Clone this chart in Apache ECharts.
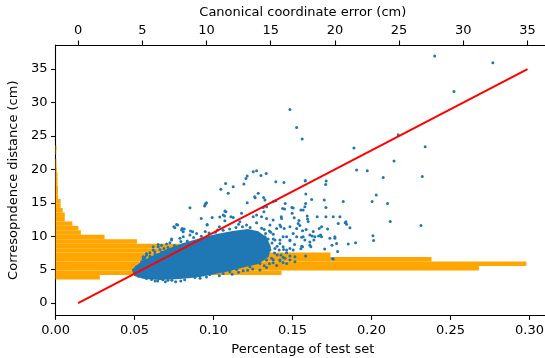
<!DOCTYPE html>
<html>
<head>
<meta charset="utf-8">
<script src="https://cdn.jsdelivr.net/npm/echarts@6/dist/echarts.min.js"></script>
<style>
  html, body { margin: 0; padding: 0; background: #fff; overflow: hidden; }
  #chart { width: 556px; height: 358px; }
</style>
</head>
<body>
<div id="chart"></div>
<script>
// tick labels
var pctTicks = [0, 0.05, 0.1, 0.15, 0.2, 0.25, 0.3];
var errTicks = [0, 5, 10, 15, 20, 25, 30, 35];
var distTicks = [0, 5, 10, 15, 20, 25, 30, 35];

// histogram of correspondence distance (bin lower edges, share of test set)
var histEdges = [3.54, 4.21, 4.88, 5.54, 6.21, 6.88, 7.55, 8.22, 8.88, 9.55, 10.22, 10.89, 11.56, 12.22, 12.89,
  13.56, 14.23, 14.9, 15.56, 16.23, 16.9, 17.57, 18.24, 18.9, 19.57, 20.24, 20.9, 21.57, 22.24, 22.9, 23.58];
var histPct = [0.028, 0.143, 0.268, 0.298, 0.238, 0.174, 0.125, 0.085, 0.0515, 0.031, 0.016, 0.0144, 0.0106,
  0.0058, 0.0058, 0.0045, 0.0032, 0.0032, 0.0015, 0.0015, 0.0015, 0.0012, 0.0012, 0.0012, 0.0008, 0.0006,
  0.0005, 0, 0.0004, 0.0006];

// y = x reference line
var refLine = [[0, 0], [35, 35]];

// outline of the dense core of the point cloud (error, distance)
var densePolyErr = [4.27, 4.81, 5.59, 6.92, 8.16, 9.49, 10.81, 12.06, 13.23, 14.0, 14.63, 14.94, 14.78, 14.0,
  12.99, 11.82, 10.65, 9.49, 7.93, 6.37, 5.2, 4.42];
var densePolyDist = [4.94, 5.83, 6.73, 7.93, 8.82, 9.57, 10.17, 10.62, 10.92, 10.62, 9.72, 8.38, 7.03, 5.98,
  5.53, 4.94, 4.49, 4.04, 3.74, 3.59, 3.74, 4.19];

// individual points around the core
var scatterPoints = [
  [27.77,36.94],[32.3,35.94],[29.27,31.66],[24.93,25.17],[27.03,23.38],[24.6,21.24],[23.76,18.8],[26.8,18.95],
  [24.1,14.91],[24.31,12.22],[26.7,11.62],[16.5,28.97],[17.02,26.28],[17.45,24.53],[21.48,23.18],[21.69,19.89],
  [22.52,19.79],[23.22,16.15],[22.9,15.21],[20.65,15.21],[22.96,10.07],[23.01,9.38],[21.61,9.02],[21.04,8.82],
  [19.82,6.63],[20.21,7.73],[19.77,8.67],[20.0,9.68],[20.39,12.91],[20.86,12.16],[21.17,11.26],[20.8,12.01],
  [20.26,11.92],[18.62,12.91],[19.3,12.91],[19.87,12.91],[18.96,11.41],[19.43,11.07],[18.96,9.92],[19.2,8.08],
  [18.36,9.42],[18.73,10.02],[18.23,10.02],[17.76,11.02],[17.92,12.22],[18.31,10.72],[19.17,15.41],[19.32,18.25],
  [19.28,17.75],[17.69,18.25],[17.74,16.3],[18.19,15.51],[17.72,14.91],[17.66,14.4],[17.35,13.91],[17.53,13.91],
  [16.75,14.21],[16.67,13.42],[16.83,12.76],[17.2,12.37],[17.27,11.62],[17.02,11.17],[17.48,10.81],[16.75,10.42],
  [17.02,9.92],[17.41,9.83],[17.66,9.42],[18.05,9.12],[16.86,8.78],[17.48,8.42],[18.13,8.42],[17.72,7.03],
  [17.35,8.12],[16.75,7.93],[16.13,14.91],[16.08,14.06],[15.82,12.91],[15.79,11.41],[16.05,11.17],[16.24,9.92],
  [16.5,9.32],[15.72,9.42],[15.97,8.42],[15.66,7.93],[16.24,7.93],[16.5,7.03],[16.11,6.69],[15.72,6.43],
  [15.97,6.09],[15.4,18.14],[16.03,18.05],[13.64,19.64],[13.9,19.79],[14.65,19.4],[14.24,19.1],[13.17,18.99],
  [13.07,18.65],[12.91,17.8],[13.75,15.9],[14.03,16.41],[14.55,15.41],[13.17,15.0],[14.47,13.66],[15.4,15.3],
  [15.19,15.15],[12.73,13.42],[13.64,12.91],[13.9,13.16],[14.29,12.91],[14.68,12.67],[15.19,12.41],[14.94,11.67],
  [15.72,11.67],[15.46,11.17],[11.49,17.9],[12.08,17.39],[11.12,17.01],[11.69,16.41],[13.79,15.75],[14.45,15.81],
  [17.69,18.35],[19.3,14.31],[9.95,14.91],[9.85,14.51],[16.65,14.31],[15.93,14.16],[15.85,12.67],[14.68,14.4],
  [14.42,14.31],[11.43,13.76],[11.3,13.16],[12.08,12.82],[17.84,13.01],[17.87,12.56],[18.78,11.17],[20.0,9.92],
  [18.89,10.17],[18.05,10.17],[9.59,12.67],[10.44,12.82],[8.71,14.26],[9.9,14.76],[10.0,15.0],[7.67,11.77],
  [7.46,11.41],[8.11,11.17],[8.06,10.92],[8.76,10.77],[8.92,10.66],[10.05,11.77],[11.04,12.86],[11.51,13.66],
  [11.41,13.01],[11.43,12.31],[11.9,12.91],[10.86,10.92],[5.33,7.18],[5.85,7.93],[5.98,7.67],[6.37,8.03],
  [6.68,8.18],[6.24,8.42],[6.89,8.82],[7.15,9.02],[7.28,9.57],[6.5,8.67],[5.07,6.54],[4.95,6.18],[5.2,6.84],
  [5.59,7.52],[4.81,5.68],[4.6,5.34],[8.19,9.92],[7.93,9.68],[8.71,10.17],[9.23,10.42],[7.54,11.26],[7.75,11.67],
  [8.26,11.07],[7.28,9.42],[6.24,8.78],[5.85,8.42],[5.33,7.43],[5.07,6.93],[4.55,5.43],[4.45,4.94],[5.33,3.69],
  [5.72,3.54],[8.71,3.93],[9.1,3.84],[10.26,4.29],[10.65,4.53],[11.3,4.44],[11.82,4.68],[12.34,5.04],[12.86,4.83],
  [13.38,5.43],[14.16,4.94],[14.68,5.34],[15.19,6.03],[15.46,5.64],[15.72,6.33],[16.24,5.94],[16.5,6.43],
  [16.89,6.18],[19.87,6.58],[16.89,6.93],[14.68,6.43],[14.16,5.94],[15.07,6.69],[13.9,6.54],[15.97,6.84],
  [15.51,7.18],[17.53,9.92],[18.44,9.92],[19.61,9.68],[20.13,8.93],[18.05,8.67],[17.41,8.52],[16.5,8.18],
  [16.24,7.52],[15.33,8.18],[14.94,7.93],[15.72,8.93],[15.33,9.42],[15.97,9.92],[16.5,9.42],[14.68,8.93],
  [14.55,9.92],[10.05,11.67],[12.6,12.16],[13.12,11.67],[13.9,12.01],[16.5,11.41],[17.14,11.92],[20.91,11.81],
  [8.19,10.66],[6.0,3.3],[7.0,3.4],[7.6,3.2],[8.3,3.5],[6.6,3.5],[14.3,11.2],[14.9,10.8],[15.2,10.3],[14.6,10.4],
  [13.7,10.5],[14.2,10.0],[14.8,9.6],[15.1,9.0],[15.0,10.6],[14.5,11.0],
  [5.2,6.5],[5.6,7.0],[6.0,7.3],[6.5,7.6],[7.0,8.3],[7.5,8.6],[8.0,9.2],[8.5,9.3],[9.0,9.8],[9.6,10.0],
  [10.2,10.5],[10.7,10.6],[11.3,10.9],[11.8,11.1],[12.3,11.3],[12.8,11.4],[13.4,11.3],[6.2,7.1],[7.3,8.0],
  [9.9,10.7],[11.0,11.4],[12.5,11.8],[4.7,4.0],[5.0,3.9],[6.2,3.3],[6.8,3.2],[7.3,3.4],[8.0,3.3],[9.5,3.7],
  [10.0,3.9],[11.0,4.1],[12.0,4.3],[12.5,4.6],[13.2,4.9],[13.6,5.1],[15.3,7.5],[15.5,8.5],[15.2,6.5],[14.9,5.9],
  [14.5,5.6],[15.8,7.2],[16.0,8.0],[15.2,9.6]
];

var chartDom = document.getElementById('chart');
var myChart = echarts.init(chartDom, null, { renderer: 'canvas' });

var textStyle = { fontFamily: 'DejaVu Sans', fontSize: 13, color: '#000' };
var axisLineStyle = { color: '#000', width: 1.1 };

var option = {
  animation: false,
  backgroundColor: '#fff',
  textStyle: textStyle,
  grid: { left: 55.6, top: 45, width: 494.4, height: 270.4, containLabel: false, outerBoundsMode: 'none' },
  xAxis: [{
    type: 'value',
    position: 'bottom',
    min: 0,
    max: 0.313,
    name: 'Percentage of test set',
    nameLocation: 'middle',
    nameGap: 28,
    nameTextStyle: textStyle,
    axisLine: { onZero: false, lineStyle: axisLineStyle },
    axisTick: { show: true, length: 4.5, customValues: pctTicks, lineStyle: axisLineStyle },
    axisLabel: {
      customValues: pctTicks, margin: 9, fontFamily: 'DejaVu Sans', fontSize: 13, color: '#000',
      formatter: function (v) { return v.toFixed(2); }
    },
    splitLine: { show: false }
  }, {
    type: 'value',
    position: 'top',
    min: -1.75,
    max: 36.75,
    name: 'Canonical coordinate error (cm)',
    nameLocation: 'middle',
    nameGap: 25,
    nameTextStyle: textStyle,
    axisLine: { onZero: false, lineStyle: axisLineStyle },
    axisTick: { show: true, length: 4.5, customValues: errTicks, lineStyle: axisLineStyle },
    axisLabel: { customValues: errTicks, margin: 8, fontFamily: 'DejaVu Sans', fontSize: 13, color: '#000' },
    splitLine: { show: false }
  }],
  yAxis: [{
    type: 'value',
    min: -1.84,
    max: 38.6,
    name: 'Corresopndence distance (cm)',
    nameLocation: 'middle',
    nameRotate: 90,
    nameGap: 24,
    nameTextStyle: textStyle,
    axisLine: { onZero: false, lineStyle: axisLineStyle },
    axisTick: { show: true, length: 4.5, customValues: distTicks, lineStyle: axisLineStyle },
    axisLabel: { customValues: distTicks, margin: 8, fontFamily: 'DejaVu Sans', fontSize: 13, color: '#000' },
    splitLine: { show: false }
  }],
  series: [
    { // histogram
      type: 'custom',
      xAxisIndex: 0,
      yAxisIndex: 0,
      z: 1,
      silent: true,
      renderItem: function (params, api) {
        var lo = api.value(0), hi = api.value(1), p = api.value(2);
        var a = api.coord([0, hi]);
        var b = api.coord([p, lo]);
        return {
          type: 'rect',
          shape: { x: a[0], y: a[1], width: b[0] - a[0], height: b[1] - a[1] },
          style: { fill: '#ffa500' }
        };
      },
      data: histPct.map(function (p, i) { return [histEdges[i], histEdges[i + 1], p]; })
    },
    { // dense core
      type: 'custom',
      xAxisIndex: 1,
      yAxisIndex: 0,
      z: 2,
      silent: true,
      renderItem: function (params, api) {
        var pts = densePolyErr.map(function (x, i) { return api.coord([x, densePolyDist[i]]); });
        return {
          type: 'polygon',
          shape: { points: pts },
          style: { fill: '#1f77b4', stroke: '#1f77b4', lineWidth: 2 }
        };
      },
      data: [[densePolyErr[0], densePolyDist[0]]]
    },
    {
      type: 'scatter',
      xAxisIndex: 1,
      yAxisIndex: 0,
      z: 3,
      symbolSize: 3,
      itemStyle: { color: '#1f77b4', opacity: 1 },
      data: scatterPoints
    },
    {
      type: 'line',
      xAxisIndex: 1,
      yAxisIndex: 0,
      z: 4,
      symbol: 'none',
      lineStyle: { color: '#ff0000', width: 2 },
      data: refLine
    }
  ]
};
myChart.setOption(option);
</script>
</body>
</html>
